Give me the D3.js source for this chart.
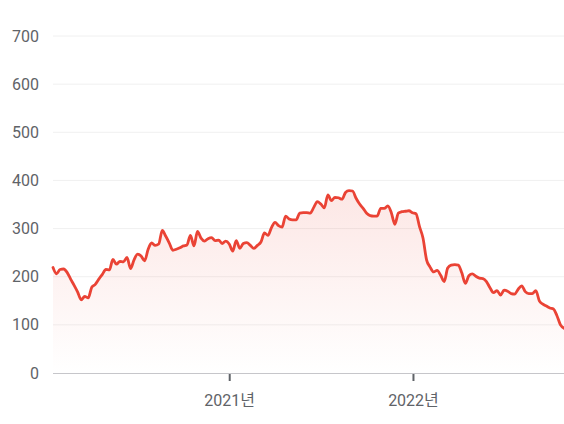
<!DOCTYPE html>
<html>
<head>
<meta charset="utf-8">
<script src="https://cdn.jsdelivr.net/npm/d3@7"></script>
<style>
  html, body { margin: 0; padding: 0; background: #fff; }
  svg { display: block; font-family: Roboto, "Noto Sans CJK KR", sans-serif; }
</style>
</head>
<body>
<div id="chart"></div>
<script>
const width = 564,
  height = 424;

// weekly series, starting 2020-01-16
const startDate = "2020-01-16";
const prices = [
  219, 206, 215, 216, 209, 195, 182, 168, 152, 159,
  156, 178, 184, 195, 205, 215, 214, 236, 226, 232,
  231, 240, 217, 235, 247, 243, 233, 257, 270, 265,
  268, 296, 284, 270, 255, 257, 260, 264, 266, 286,
  264, 294, 280, 274, 279, 281, 275, 276, 269, 274,
  268, 253, 275, 259, 269, 271, 265, 259, 265, 272,
  291, 286, 302, 313, 306, 303, 326, 320, 318, 318,
  332, 333, 333, 332, 344, 356, 351, 343, 370, 358,
  365, 364, 361, 375, 379, 378, 363, 351, 342, 332,
  327, 326, 326, 342, 342, 347, 333, 309, 332, 335,
  336, 337, 333, 331, 304, 280, 235, 220, 210, 213,
  203, 190, 218, 224, 225, 224, 208, 186, 202, 206,
  201, 197, 196, 190, 177, 167, 171, 162, 172, 170,
  165, 164, 174, 181, 169, 165, 165, 171, 150, 143,
  139, 135, 133, 119, 100, 93
];

const yTicks = [0, 100, 200, 300, 400, 500, 600, 700];
const xTickYears = ["2021-01-01", "2022-01-01"];

const margin = {top: 36, right: 0, bottom: 51, left: 53};

const parseDate = d3.timeParse("%Y-%m-%d");
const start = parseDate(startDate);
const data = prices.map(function(v, i) {
  return {date: d3.timeWeek.offset(start, i), value: v};
});

const x = d3.scaleTime()
  .domain(d3.extent(data, function(d) { return d.date; }))
  .range([margin.left, width - margin.right]);

const y = d3.scaleLinear()
  .domain([0, 700])
  .range([height - margin.bottom, margin.top]);

const svg = d3.select("#chart").append("svg")
  .attr("width", width)
  .attr("height", height);

// gradient for the area under the line
const grad = svg.append("defs").append("linearGradient")
  .attr("id", "fillGrad")
  .attr("gradientUnits", "userSpaceOnUse")
  .attr("x1", 0).attr("x2", 0)
  .attr("y1", y(380)).attr("y2", y(0));
grad.append("stop").attr("offset", "0%").attr("stop-color", "#ea4335").attr("stop-opacity", 0.13);
grad.append("stop").attr("offset", "100%").attr("stop-color", "#ea4335").attr("stop-opacity", 0);

// gridlines
svg.append("g")
  .selectAll("line")
  .data(yTicks.filter(function(t) { return t > 0; }))
  .enter().append("line")
    .attr("x1", margin.left)
    .attr("x2", width - margin.right)
    .attr("y1", function(d) { return y(d); })
    .attr("y2", function(d) { return y(d); })
    .style("stroke", "#f0f0f0")
    .style("stroke-width", 1);

// y labels
svg.append("g")
  .selectAll("text")
  .data(yTicks)
  .enter().append("text")
    .attr("x", 39)
    .attr("y", function(d) { return y(d); })
    .attr("dy", "0.35em")
    .attr("text-anchor", "end")
    .style("font-size", "16px")
    .style("fill", "#5f6368")
    .text(function(d) { return d; });

// area + line
const area = d3.area()
  .x(function(d) { return x(d.date); })
  .y0(y(0))
  .y1(function(d) { return y(d.value); })
  .curve(d3.curveMonotoneX);

const line = d3.line()
  .x(function(d) { return x(d.date); })
  .y(function(d) { return y(d.value); })
  .curve(d3.curveMonotoneX);

svg.append("path")
  .datum(data)
  .attr("d", area)
  .style("fill", "url(#fillGrad)");

// baseline
svg.append("line")
  .attr("x1", margin.left)
  .attr("x2", width - margin.right)
  .attr("y1", y(0) + 0.5)
  .attr("y2", y(0) + 0.5)
  .style("stroke", "#c6c6ca")
  .style("stroke-width", 1);

svg.append("path")
  .datum(data)
  .attr("d", line)
  .style("fill", "none")
  .style("stroke", "#ea4335")
  .style("stroke-width", 2.8)
  .style("stroke-linejoin", "round")
  .style("stroke-linecap", "round");

// x axis ticks
const xTicks = svg.append("g")
  .selectAll("g")
  .data(xTickYears.map(parseDate))
  .enter().append("g")
    .attr("transform", function(d) { return "translate(" + x(d) + ",0)"; });

xTicks.append("line")
  .attr("y1", y(0) + 1)
  .attr("y2", y(0) + 8)
  .style("stroke", "#5f6368")
  .style("stroke-width", 2);

xTicks.append("text")
  .attr("y", y(0) + 33)
  .attr("text-anchor", "middle")
  .style("font-size", "16px")
  .style("fill", "#5f6368")
  .text(function(d) { return d.getFullYear() + "년"; });
</script>
</body>
</html>
